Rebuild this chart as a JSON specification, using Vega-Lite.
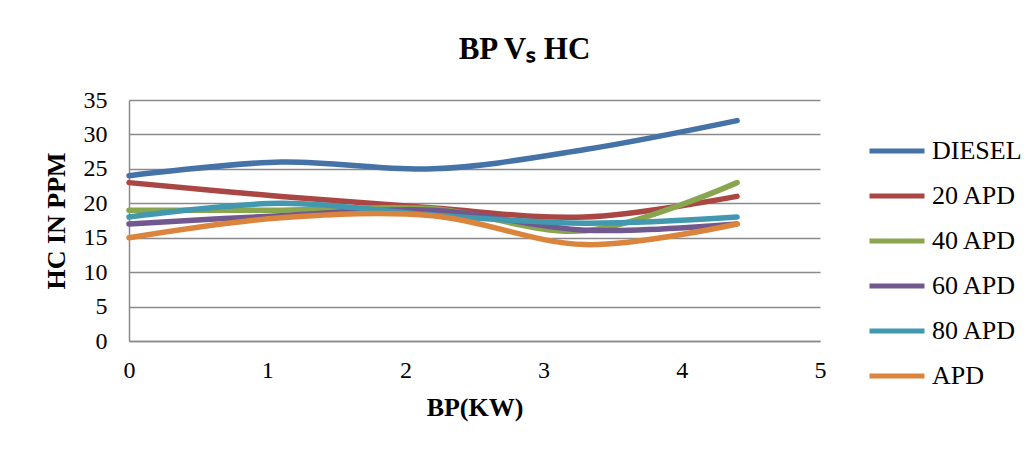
{
  "$schema": "https://vega.github.io/schema/vega-lite/v6.json",
  "autosize": {"type": "none"},
  "width": 691,
  "height": 241,
  "padding": {"left": 129, "top": 100, "right": 212, "bottom": 112},
  "background": "white",
  "title": {
    "text": "BP Vₛ HC",
    "font": "Liberation Serif",
    "fontSize": 31,
    "fontWeight": "bold",
    "color": "#000000",
    "anchor": "middle",
    "frame": "group",
    "baseline": "alphabetic",
    "offset": 41,
    "dx": 50,
    "dy": 43
  },
  "data": {
    "values": [
      {"bp": 0, "hc": 24, "fuel": "DIESEL"},
      {"bp": 1.1, "hc": 26, "fuel": "DIESEL"},
      {"bp": 2.2, "hc": 25, "fuel": "DIESEL"},
      {"bp": 3.3, "hc": 27.8, "fuel": "DIESEL"},
      {"bp": 4.4, "hc": 32, "fuel": "DIESEL"},
      {"bp": 0, "hc": 23, "fuel": "20 APD"},
      {"bp": 1.1, "hc": 21, "fuel": "20 APD"},
      {"bp": 2.2, "hc": 19.3, "fuel": "20 APD"},
      {"bp": 3.3, "hc": 18, "fuel": "20 APD"},
      {"bp": 4.4, "hc": 21, "fuel": "20 APD"},
      {"bp": 0, "hc": 19, "fuel": "40 APD"},
      {"bp": 1.1, "hc": 19, "fuel": "40 APD"},
      {"bp": 2.2, "hc": 19.2, "fuel": "40 APD"},
      {"bp": 3.3, "hc": 16, "fuel": "40 APD"},
      {"bp": 4.4, "hc": 23, "fuel": "40 APD"},
      {"bp": 0, "hc": 17, "fuel": "60 APD"},
      {"bp": 1.1, "hc": 18.2, "fuel": "60 APD"},
      {"bp": 2.2, "hc": 19, "fuel": "60 APD"},
      {"bp": 3.3, "hc": 16.1, "fuel": "60 APD"},
      {"bp": 4.4, "hc": 17, "fuel": "60 APD"},
      {"bp": 0, "hc": 18, "fuel": "80 APD"},
      {"bp": 1.1, "hc": 20, "fuel": "80 APD"},
      {"bp": 2.2, "hc": 18.3, "fuel": "80 APD"},
      {"bp": 3.3, "hc": 17.1, "fuel": "80 APD"},
      {"bp": 4.4, "hc": 18, "fuel": "80 APD"},
      {"bp": 0, "hc": 15, "fuel": "APD"},
      {"bp": 1.1, "hc": 17.9, "fuel": "APD"},
      {"bp": 2.2, "hc": 18.2, "fuel": "APD"},
      {"bp": 3.3, "hc": 14, "fuel": "APD"},
      {"bp": 4.4, "hc": 17, "fuel": "APD"}
    ]
  },
  "mark": {"type": "line", "strokeWidth": 5.5, "interpolate": "catmull-rom", "strokeCap": "round", "strokeJoin": "round"},
  "encoding": {
    "x": {
      "field": "bp",
      "type": "quantitative",
      "scale": {"domain": [0, 5], "nice": false, "zero": true},
      "axis": {
        "title": "BP(KW)",
        "values": [0, 1, 2, 3, 4, 5],
        "grid": false,
        "ticks": false,
        "domain": true,
        "domainColor": "#8a8a8a",
        "domainWidth": 1.5,
        "labelFont": "Liberation Serif",
        "labelFontSize": 24,
        "labelColor": "#000000",
        "labelPadding": 17,
        "labelFlush": false,
        "titleFont": "Liberation Serif",
        "titleFontSize": 26,
        "titleFontWeight": "bold",
        "titleColor": "#000000",
        "titlePadding": 12
      }
    },
    "y": {
      "field": "hc",
      "type": "quantitative",
      "scale": {"domain": [0, 35], "nice": false},
      "axis": {
        "title": "HC IN PPM",
        "values": [0, 5, 10, 15, 20, 25, 30, 35],
        "grid": true,
        "gridColor": "#8a8a8a",
        "gridWidth": 1.5,
        "gridOpacity": 1,
        "ticks": false,
        "domain": true,
        "domainColor": "#8a8a8a",
        "domainWidth": 1.5,
        "labelFont": "Liberation Serif",
        "labelFontSize": 24,
        "labelColor": "#000000",
        "labelPadding": 22,
        "labelFlush": false,
        "titleFont": "Liberation Serif",
        "titleFontSize": 26,
        "titleFontWeight": "bold",
        "titleColor": "#000000",
        "titlePadding": 14
      }
    },
    "color": {
      "field": "fuel",
      "type": "nominal",
      "scale": {
        "domain": ["DIESEL", "20 APD", "40 APD", "60 APD", "80 APD", "APD"],
        "range": ["#4572A7", "#AA4643", "#89A54E", "#71588F", "#4198AF", "#DB843D"]
      },
      "legend": {
        "title": null,
        "orient": "none",
        "legendX": 738,
        "legendY": 21,
        "symbolType": "stroke",
        "symbolSize": 3025,
        "symbolStrokeWidth": 5,
        "labelFont": "Liberation Serif",
        "labelFontSize": 26,
        "labelColor": "#000000",
        "labelOffset": 5,
        "rowPadding": 2,
        "labelLimit": 200
      }
    }
  },
  "config": {
    "view": {"stroke": null}
  }
}
